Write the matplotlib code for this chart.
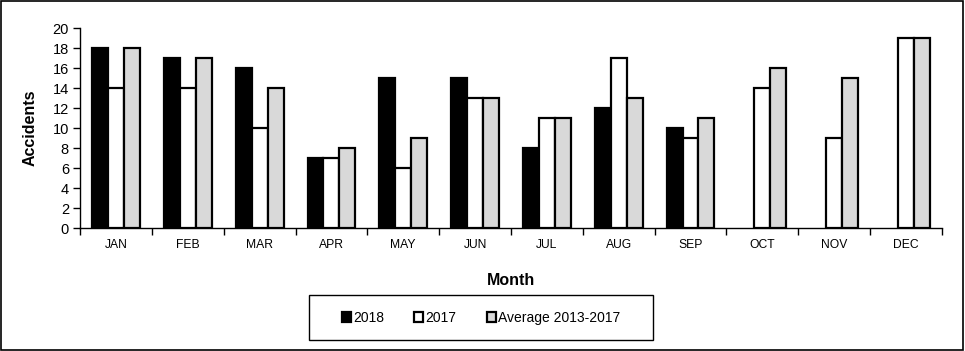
import numpy as np
import matplotlib
matplotlib.use("Agg")
import matplotlib.pyplot as plt
from matplotlib.patches import Rectangle

plt.rcParams["font.family"] = ["Liberation Sans", "DejaVu Sans"]

MONTHS = ["JAN", "FEB", "MAR", "APR", "MAY", "JUN", "JUL", "AUG", "SEP", "OCT", "NOV", "DEC"]
Y2018 = [18, 17, 16, 7, 15, 15, 8, 12, 10, np.nan, np.nan, np.nan]
Y2017 = [14, 14, 10, 7, 6, 13, 11, 17, 9, 14, 9, 19]
AVG_13_17 = [18, 17, 14, 8, 9, 13, 11, 13, 11, 16, 15, 19]
SERIES = [("2018", Y2018, "black"), ("2017", Y2017, "white"), ("Average 2013-2017", AVG_13_17, "#d9d9d9")]

fig = plt.figure(figsize=(9.65, 3.51), dpi=100)
ax = fig.add_axes([0.083, 0.350, 0.893, 0.570])

x = np.arange(len(MONTHS))
w = 0.222
handles = []
for i, (name, vals, col) in enumerate(SERIES):
    b = ax.bar(x + (i - 1) * w, vals, w, color=col, edgecolor="black", lw=1.6, label=name)
    handles.append(b)

ax.set_xlim(-0.5, len(MONTHS) - 0.5)
ax.set_ylim(0, 20)
ax.set_yticks(range(0, 21, 2))
ax.set_xticks(x)
ax.set_xticklabels(MONTHS, fontsize=8.7)
ax.set_xticks(np.arange(-0.5, len(MONTHS), 1.0), minor=True)
ax.tick_params(axis="x", which="major", length=0, pad=8)
ax.tick_params(axis="x", which="minor", length=5, direction="out", width=1)
ax.tick_params(axis="y", length=5, direction="out", width=1, labelsize=10.5, pad=3)
ax.spines[["top", "right"]].set_visible(False)
for s in ("left", "bottom"):
    ax.spines[s].set_linewidth(1)
ax.set_ylabel("Accidents", fontsize=11.5, fontweight="bold", labelpad=11)
ax.set_xlabel("Month", fontsize=11.5, fontweight="bold", labelpad=16)

# legend box
fig.patches.append(Rectangle((309 / 965, 1 - 340 / 351), 344 / 965, 45 / 351,
                             transform=fig.transFigure, fill=False, ec="black", lw=1))
fig.legend(handles=handles, loc="center", bbox_to_anchor=(481 / 965, 1 - 318 / 351),
           ncol=3, frameon=False, fontsize=10, handlelength=0.65, handleheight=0.65,
           handletextpad=0.15, columnspacing=2.2)

# outer border
fig.patches.append(Rectangle((0.001, 0.002), 0.997, 0.996, transform=fig.transFigure,
                             fill=False, ec="black", lw=1.2))

fig.savefig("out.png", dpi=100)
